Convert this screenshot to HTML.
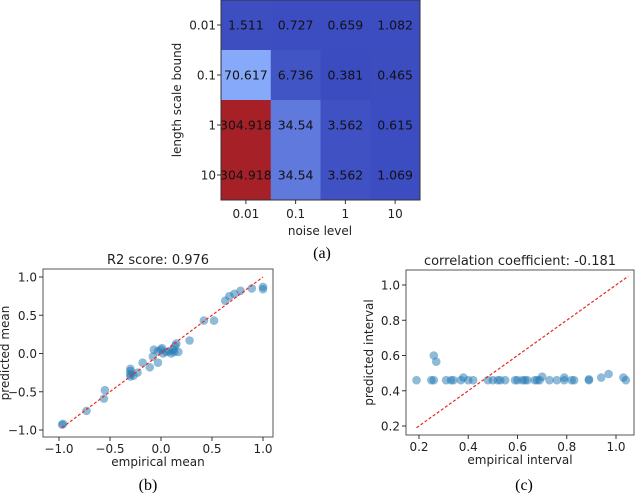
<!DOCTYPE html>
<html><head><meta charset="utf-8"><style>
body{margin:0;background:#fff;width:640px;height:493px;overflow:hidden}
svg text{font-family:"DejaVu Sans","Liberation Sans",sans-serif;fill:#222}
.cap{font-family:"Liberation Serif",serif;font-size:16px;fill:#000}
</style></head><body>
<svg id="s" width="640" height="493">
<text class="cap" x="322" y="258" text-anchor="middle">(a)</text>
<text class="cap" x="148" y="490" text-anchor="middle">(b)</text>
<text class="cap" x="524" y="490" text-anchor="middle">(c)</text>
</svg>
<script>
const hmRows=["0.01","0.1","1","10"];
const hmCols=["0.01","0.1","1","10"];
const hmVals=[[1.511,0.727,0.659,1.082],[70.617,6.736,0.381,0.465],[304.918,34.54,3.562,0.615],[304.918,34.54,3.562,1.069]];
const bX=[-0.97,-0.96,-0.73,-0.55,-0.56,-0.3,-0.3,-0.3,-0.3,-0.27,-0.23,-0.18,-0.11,-0.07,-0.08,-0.03,-0.03,0,0.01,0.02,0.05,0.08,0.1,0.12,0.14,0.15,0.13,0.17,0.28,0.42,0.52,0.63,0.67,0.72,0.78,0.89,1.0,1.0];
const bY=[-0.93,-0.92,-0.75,-0.48,-0.59,-0.2,-0.23,-0.27,-0.3,-0.29,-0.25,-0.12,-0.18,0.05,-0.04,-0.12,0.03,0.05,0.07,0.0,0.02,0.03,0.0,0.05,0.1,0.13,0.02,0.02,0.17,0.43,0.43,0.69,0.75,0.78,0.82,0.85,0.87,0.84];
const cX=[0.19,0.25,0.26,0.31,0.33,0.34,0.37,0.4,0.42,0.48,0.5,0.52,0.53,0.55,0.59,0.6,0.62,0.63,0.64,0.67,0.68,0.69,0.73,0.76,0.79,0.82,0.83,0.89,0.26,0.27,0.38,0.7,0.79,0.89,0.94,0.97,1.03,1.04];
const cY=[0.46,0.46,0.46,0.46,0.46,0.46,0.46,0.46,0.46,0.46,0.46,0.46,0.46,0.46,0.46,0.46,0.46,0.46,0.46,0.46,0.46,0.46,0.46,0.46,0.46,0.46,0.46,0.46,0.6,0.565,0.475,0.48,0.475,0.465,0.475,0.495,0.475,0.46];
const bTicks=[-1.0,-0.5,0.0,0.5,1.0];
const cXTicks=[0.2,0.4,0.6,0.8,1.0];
const cYTicks=[0.2,0.4,0.6,0.8,1.0];
const S=document.getElementById('s');
function el(t,a,p){const e=document.createElementNS('http://www.w3.org/2000/svg',t);for(const k in a)e.setAttribute(k,a[k]);(p||S).appendChild(e);return e;}
function txt(s,a){const e=el('text',a);e.textContent=s;return e;}
function cw(t){const st=[[0,[59,76,192]],[0.25,[141,176,254]],[0.5,[221,221,221]],[0.75,[230,140,115]],[1,[166,32,40]]];for(let i=1;i<st.length;i++){if(t<=st[i][0]){const a=st[i-1],b=st[i],f=(t-a[0])/(b[0]-a[0]);return 'rgb('+a[1].map((v,j)=>Math.round(v+(b[1][j]-v)*f)).join(',')+')';}}return 'rgb(166,32,40)';}
// heatmap
const hx=221,hy=0,cwid=49.75,ch=50,vmax=Math.max(...hmVals.flat());
hmVals.forEach((row,r)=>row.forEach((v,c)=>{
 const rc=el('rect',{x:hx+c*cwid,y:hy+r*ch,width:cwid+0.5,height:ch+0.5,fill:cw(v/vmax)});
 
 
 const t=txt(String(v),{x:hx+c*cwid+cwid/2,y:hy+r*ch+ch/2+4.5,'text-anchor':'middle','font-size':'12.5',style:'fill:#111'});
 
 
}));
el('rect',{x:hx,y:hy,width:cwid*4,height:ch*4,fill:'none',stroke:'#333','stroke-width':1});
hmRows.forEach((l,r)=>{const y=hy+r*ch+ch/2;el('line',{x1:hx-4,x2:hx,y1:y,y2:y,stroke:'#333'});const t=txt(l,{x:hx-5,y:y+4.5,'text-anchor':'end','font-size':'12'});});
hmCols.forEach((l,c)=>{const x=hx+c*cwid+cwid/2;el('line',{x1:x,x2:x,y1:hy+200,y2:hy+204,stroke:'#333'});const t=txt(l,{x:x,y:218,'text-anchor':'middle','font-size':'12'});});
txt('noise level',{x:320,y:235,'text-anchor':'middle','font-size':'12',});
txt('length scale bound',{x:0,y:0,transform:'translate(181,100) rotate(-90)','text-anchor':'middle','font-size':'12',});
// scatter
function scatter(o){
 const L=o.l,R=o.r,T=o.t,B=o.b;
 const sx=v=>o.x0p+(v-o.x0)*(o.x1p-o.x0p)/(o.x1-o.x0);
 const sy=v=>o.y0p+(v-o.y0)*(o.y1p-o.y0p)/(o.y1-o.y0);
 el('rect',{x:L,y:T,width:R-L,height:B-T,fill:'none',stroke:'#555','stroke-width':1,});
 o.xt.forEach(v=>{const x=sx(v);el('line',{x1:x,x2:x,y1:B,y2:B+4,stroke:'#333'});const t=txt(v.toFixed(1).replace('-','\u2212'),{x:x,y:B+16,'text-anchor':'middle','font-size':'12'});});
 o.yt.forEach(v=>{const y=sy(v);el('line',{x1:L-4,x2:L,y1:y,y2:y,stroke:'#333'});const t=txt(v.toFixed(1).replace('-','\u2212'),{x:L-6,y:y+4.5,'text-anchor':'end','font-size':'12'});});
 o.X.forEach((v,i)=>{const c=el('circle',{cx:sx(v),cy:sy(o.Y[i]),r:4.3,fill:'#1f77b4','fill-opacity':0.5});});
 el('line',{x1:sx(o.lx[0]),y1:sy(o.lx[0]),x2:sx(o.lx[1]),y2:sy(o.lx[1]),stroke:'#e8281f','stroke-width':1.2,'stroke-dasharray':'3,2',});
 txt(o.title,{x:(L+R)/2,y:T-5,'text-anchor':'middle','font-size':'13',});
 txt(o.xl,{x:(L+R)/2,y:B+29,'text-anchor':'middle','font-size':'12',});
 txt(o.yl,{x:0,y:0,transform:'translate('+o.ylx+','+(T+B)/2+') rotate(-90)','text-anchor':'middle','font-size':'12',});
}
scatter({n:'plot-b',l:43,r:273,t:269,b:437,x0:-1,x1:1,x0p:59,x1p:263,y0:-1,y1:1,y0p:430,y1p:277,xt:bTicks,yt:bTicks,X:bX,Y:bY,lx:[-0.97,1.0],title:'R2 score: 0.976',xl:'empirical mean',yl:'predicted mean',ylx:9});
scatter({n:'plot-c',l:406,r:634,t:270,b:435,x0:0.2,x1:1.0,x0p:419,x1p:616,y0:0.2,y1:1.0,y0p:426,y1p:285,xt:cXTicks,yt:cYTicks,X:cX,Y:cY,lx:[0.19,1.05],title:'correlation coefficient: -0.181',xl:'empirical interval',yl:'predicted interval',ylx:373});
</script>
</body></html>
